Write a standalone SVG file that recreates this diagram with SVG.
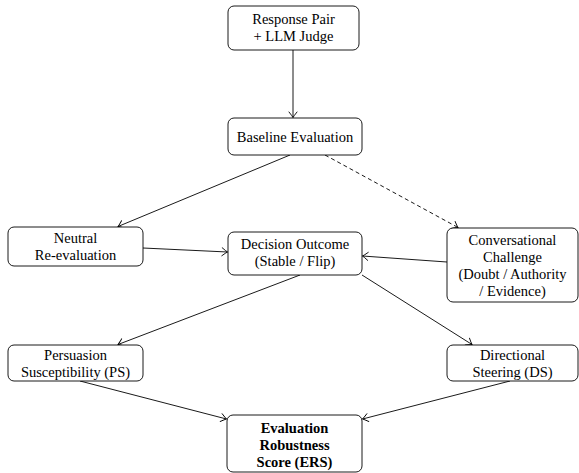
<svg xmlns="http://www.w3.org/2000/svg" width="579" height="473" viewBox="0 0 579 473">
<defs>
<marker id="arr" viewBox="-7 -5 9 10" refX="0" refY="0" markerWidth="9" markerHeight="10" markerUnits="userSpaceOnUse" orient="auto">
<path d="M-5.5,-4 Q-1.5,-0.8 0,0 Q-1.5,0.8 -5.5,4" fill="none" stroke="#000" stroke-width="0.9" stroke-linecap="round"/>
</marker>
<style>
.box{fill:#fff;stroke:#000;stroke-width:0.9}
.t{font-family:"Liberation Serif","Times New Roman",serif;font-size:14.5px;text-anchor:middle;fill:#000}
.b{font-weight:bold}
.c{fill:none;stroke:#000;stroke-width:0.9;marker-end:url(#arr)}
.d{stroke-dasharray:4,3}
</style>
</defs>
<rect width="579" height="473" fill="#fff"/>
<g id="connectors">
<line class="c" x1="293" y1="50" x2="293" y2="117.5"/>
<line class="c" x1="290" y1="155" x2="118" y2="226.5"/>
<line class="c d" x1="325" y1="155" x2="458" y2="227.5"/>
<line class="c" x1="143" y1="248" x2="227.5" y2="252"/>
<line class="c" x1="447" y1="262" x2="362.5" y2="256"/>
<line class="c" x1="300" y1="275" x2="118" y2="344.5"/>
<line class="c" x1="362" y1="275" x2="472" y2="344.5"/>
<line class="c" x1="80" y1="381" x2="226.5" y2="419"/>
<line class="c" x1="510" y1="381" x2="362.5" y2="419"/>
</g>
<g id="response">
<rect class="box" x="228" y="6" width="131" height="44" rx="6"/>
<text class="t" x="293.5" y="24">Response Pair</text>
<text class="t" x="293.5" y="41">+ LLM Judge</text>
</g>
<g id="baseline">
<rect class="box" x="228" y="118" width="134" height="37" rx="6"/>
<text class="t" x="295" y="141.5">Baseline Evaluation</text>
</g>
<g id="neutral">
<rect class="box" x="8" y="227" width="135" height="39" rx="6"/>
<text class="t" x="75.5" y="243">Neutral</text>
<text class="t" x="75.5" y="260">Re-evaluation</text>
</g>
<g id="decision">
<rect class="box" x="228" y="232" width="134" height="43" rx="6"/>
<text class="t" x="295" y="249">Decision Outcome</text>
<text class="t" x="295" y="266">(Stable / Flip)</text>
</g>
<g id="challenge">
<rect class="box" x="447" y="228" width="131" height="74" rx="6"/>
<text class="t" x="512.5" y="245">Conversational</text>
<text class="t" x="512.5" y="262">Challenge</text>
<text class="t" x="512.5" y="279">(Doubt / Authority</text>
<text class="t" x="512.5" y="296">/ Evidence)</text>
</g>
<g id="ps">
<rect class="box" x="8" y="345" width="135" height="36" rx="6"/>
<text class="t" x="75.5" y="360">Persuasion</text>
<text class="t" x="75.5" y="377">Susceptibility (PS)</text>
</g>
<g id="ds">
<rect class="box" x="447" y="345" width="131" height="36" rx="6"/>
<text class="t" x="512.5" y="360">Directional</text>
<text class="t" x="512.5" y="377">Steering (DS)</text>
</g>
<g id="ers">
<rect class="box" x="227" y="415" width="135" height="57" rx="6"/>
<text class="t b" x="294.5" y="433">Evaluation</text>
<text class="t b" x="294.5" y="450">Robustness</text>
<text class="t b" x="294.5" y="467">Score (ERS)</text>
</g>
</svg>
